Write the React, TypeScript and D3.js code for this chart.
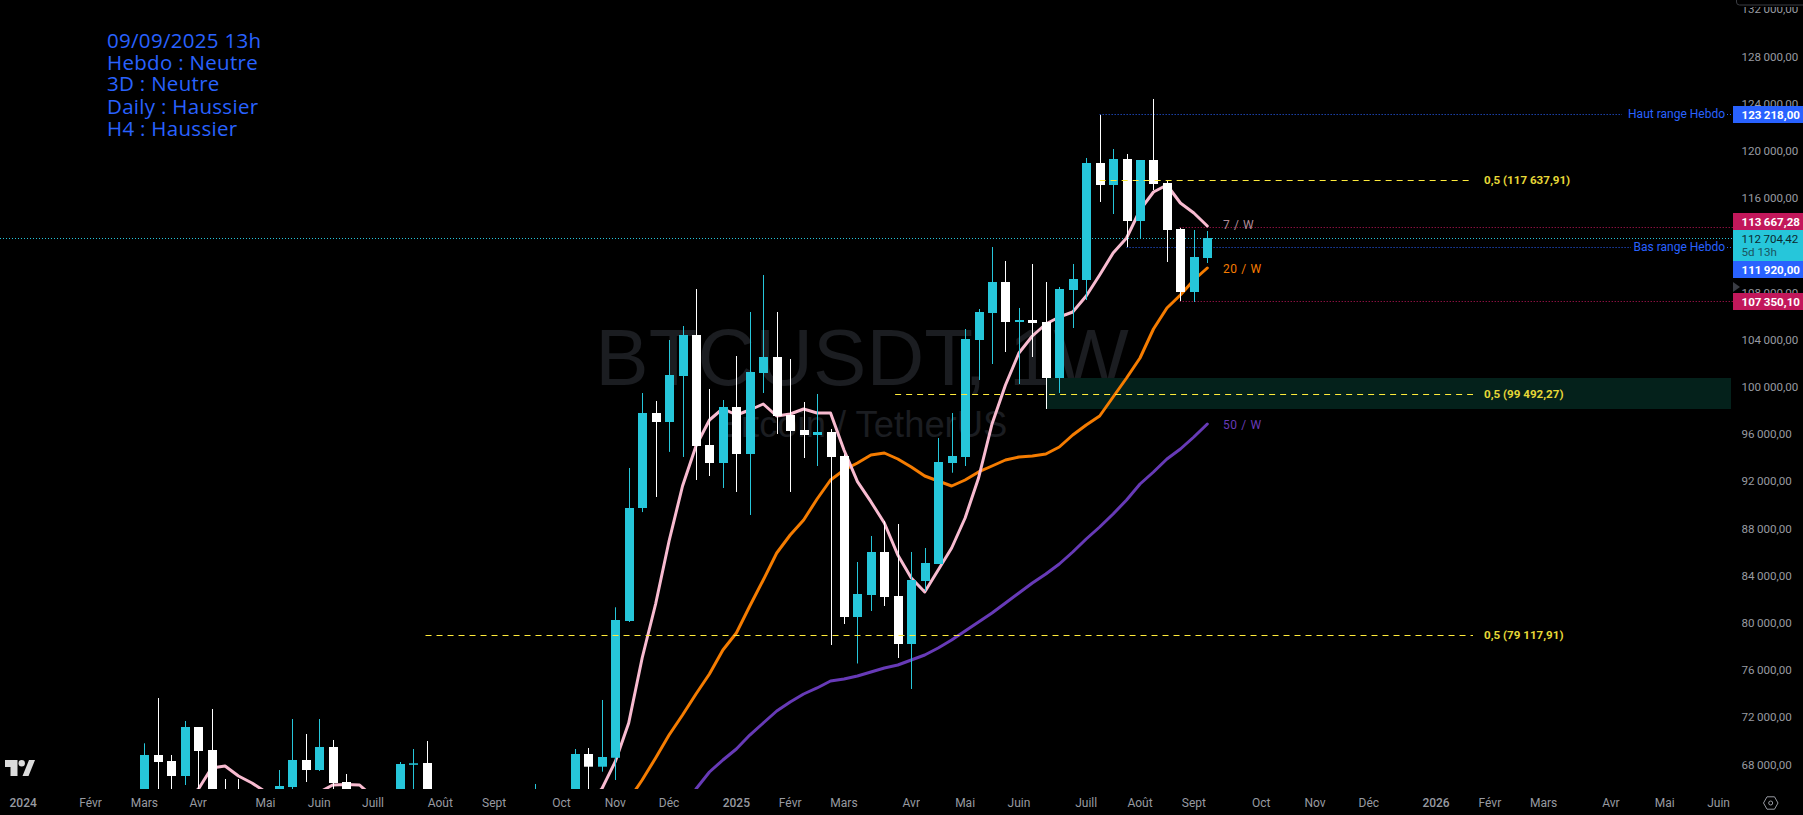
import React from "react";
import * as d3 from "d3";

const WIDTH = 1803;
const HEIGHT = 815;

// Weekly BTC/USDT candles (index 0 = week of 4 Mar 2024)
const opens = [62000,68814,68305,67034,71186,69237,63000,61000,60800,58000,61000,66100,68390,67542,69492,66525,64000,61000,55800,58000,68000,68136,64600,58000,58700,64000,57300,54800,60000,63500,65600,62000,62900,68898,67822,68580,80170,89746,97797,97034,100932,104407,95085,93559,98305,94322,101186,102542,97627,96356,95932,96186,94153,80508,82373,86017,82288,78220,83559,85000,93559,94068,103983,106271,108898,105508,105678,105508,100763,108220,109068,118983,117119,119322,114068,119237,117288,113390,108051,110932];
const highs = [69805,73644,68814,71695,71186,72712,66780,66780,65000,63000,67542,71864,70593,71864,70085,67203,65500,62000,60000,68220,69322,70000,65600,62700,65000,64900,59800,60600,63800,66356,65800,64500,69322,69407,73475,81330,93136,99490,98814,103983,105169,108305,99831,98898,102627,106356,109492,106356,102373,98729,99407,96441,94300,85169,87373,88644,88390,86017,86356,95678,97797,104915,106610,111864,110678,106695,110424,108898,108475,110424,119407,123050,120169,119746,119237,124407,117542,113475,113305,113220];
const lows = [61000,64500,60800,66271,64500,60000,60000,60000,56000,57000,60000,65000,66525,67458,65000,63000,60000,53500,55000,57000,65500,61000,49000,54700,57800,57100,52500,53600,57500,62700,60000,59000,62000,65500,67400,66695,80085,89400,90678,94500,94068,92119,92458,91441,91102,89153,99492,96017,91102,93983,93305,78136,79915,76568,81017,81441,77034,74407,82712,85000,92737,93305,100593,101949,102966,100254,102542,98136,99492,105000,107373,115678,114661,111864,112542,116695,110593,107288,107203,110508];
const closes = [68814,68220,67034,71186,69153,63000,61000,60800,58000,61000,66186,68390,67542,69492,66441,64000,61000,55800,58000,68051,68110,64600,58000,58700,64000,57300,54800,60000,63500,65600,62000,62900,68898,67822,68644,80254,89746,97797,97034,101017,104407,95000,93559,98305,94322,101271,102542,97542,96271,95932,96186,94068,80508,82458,86017,82203,78220,83644,85085,93644,94153,104068,106356,108898,105508,105678,105424,100763,108305,109153,118983,117119,119322,114068,119237,117203,113305,108051,111017,112627];

// Moving averages, same weekly index
const ma7 = [62000,63500,64500,65300,65890,67712,67881,67034,66441,65700,65500,65200,65400,65650,66271,66314,66271,65254,64000,63500,63000,62500,62000,61500,61000,60500,60200,60000,60500,61500,62500,63300,64000,65000,65932,68246,71525,77034,81610,86949,91610,95000,97203,98178,97627,98051,98559,97542,97712,98136,97797,97797,94661,91975,90280,88475,85763,83814,82627,84492,86356,88898,92288,96864,100169,102881,104322,105339,105932,106356,107712,109492,111356,112627,115000,116525,117119,115593,114746,113644];
const ma20Start = 35;
const ma20 = [63300,65000,66695,68559,70508,72203,73983,75678,77712,79153,81441,83644,85932,87458,88729,90508,92119,92966,93559,94237,94407,93898,93220,92458,92034,91610,92119,92797,93305,93814,94068,94153,94322,94915,95932,96780,97542,99153,100763,102458,104915,106695,107797,109068,110085];
const ma50Start = 40;
const ma50 = [64153,65932,67373,68390,69322,70508,71525,72542,73305,73983,74492,75085,75254,75508,75847,76186,76441,76864,77288,77881,78559,79322,80085,80847,81695,82542,83390,84153,85000,86017,87119,88136,89237,90424,91780,92797,93898,94746,95763,96864];

const priceTicks = [132000,128000,124000,120000,116000,112000,108000,104000,100000,96000,92000,88000,84000,80000,76000,72000,68000];
const timeIndex = [-9,-4,0,4,9,13,17,22,26,31,35,39,44,48,52,57,61,65,70,74,78,83,87,91,96,100,104,109,113,117];
const timeLabels = ["2024","Févr","Mars","Avr","Mai","Juin","Juill","Août","Sept","Oct","Nov","Déc","2025","Févr","Mars","Avr","Mai","Juin","Juill","Août","Sept","Oct","Nov","Déc","2026","Févr","Mars","Avr","Mai","Juin"];
const notes = ["09/09/2025 13h","Hebdo : Neutre","3D : Neutre","Daily : Haussier","H4 : Haussier"];

const levelHigh = 123218;
const levelLow = 111920;
const levelMa7 = 113667.28;
const levelLastPrice = 112704.42;
const levelBottom = 107350.1;
const fibLevels = [
  { value: 117637.91, from: 71, label: "0,5 (117 637,91)" },
  { value: 99492.27, from: 55.8, label: "0,5 (99 492,27)" },
  { value: 79117.91, from: 20.9, label: "0,5 (79 117,91)" },
];
const zone = { top: 100763, bottom: 98136, from: 67 };

const CYAN = "#26c6da";
const WHITE = "#ffffff";
const PINK = "#f8bbd0";
const ORANGE = "#f57c00";
const PURPLE = "#673ab7";
const BLUE = "#2962ff";
const CRIMSON = "#c2185b";
const YELLOW = "#ffeb3b";
const AXIS = "#b2b5be";
const UI = "Roboto, 'Noto Sans', sans-serif";

const plotRight = 1733;
const plotBottom = 789;

const x = d3.scaleLinear().domain([0, 79]).range([144.3, 1207.3]);
const y = d3.scaleLinear().domain([100000, 80000]).range([387, 623]);

// Horizontal guides sit a pixel and a bit below the mark scale in the reference.
const guideY = (v: number) => Math.floor(y(v) + 1.3) + 0.5;
const fibY = (v: number) => Math.round(y(v) + 1.3) + 0.5;

const fmt = (v: number, d = 2) =>
  v.toFixed(d).replace(".", ",").replace(/\B(?=(\d{3})+(?!\d))/, "\u2009");

const lineFor = (start: number) =>
  d3.line<number>().x((_, i) => x(i + start)).y((d) => y(d));

function Tag({ value, center, fill, text }: { value: number; center: number; fill: string; text: string }) {
  return (
    <g>
      <rect x={plotRight} y={center - 8.5} width={WIDTH - plotRight} height={17} fill={fill} />
      <text x={1741.5} y={center + 4} fontSize={11.6} fontWeight={700} fill={text} fontFamily={UI}>
        {fmt(value)}
      </text>
    </g>
  );
}

export default function App() {
  const ma7Line = lineFor(0)(ma7) || "";
  const ma20Line = lineFor(ma20Start)(ma20) || "";
  const ma50Line = lineFor(ma50Start)(ma50) || "";
  const bodyW = 9;
  return (
    <svg
      width={WIDTH}
      height={HEIGHT}
      viewBox={`0 0 ${WIDTH} ${HEIGHT}`}
      style={{ position: "absolute", left: 0, top: 0, display: "block", background: "#000" }}
    >
      <defs>
        <clipPath id="plot">
          <rect x={0} y={0} width={plotRight} height={plotBottom} />
        </clipPath>
      </defs>
      <rect width={WIDTH} height={HEIGHT} fill="#000" />

      {/* watermark */}
      <g fill="#1b1d21" fontFamily="'Liberation Sans', Arial, sans-serif" textAnchor="middle">
        <text x={862} y={385} fontSize={80}>BTCUSDT, 1W</text>
        <text x={862} y={436.5} fontSize={36.4}>Bitcoin / TetherUS</text>
      </g>

      <g clipPath="url(#plot)">
        {/* green zone */}
        <rect x={x(zone.from)} y={y(zone.top)} width={1731 - x(zone.from)} height={y(zone.bottom) - y(zone.top)} fill="#04211b" />

        {/* price & range lines (below candles) */}
        <line x1={0} x2={plotRight} y1={guideY(levelLastPrice)} y2={guideY(levelLastPrice)} stroke={CYAN} strokeDasharray="1 2" />
        <line x1={x(71)} x2={1622} y1={guideY(levelHigh)} y2={guideY(levelHigh)} stroke={BLUE} strokeDasharray="1 2" />
        <line x1={x(73)} x2={1631} y1={guideY(levelLow)} y2={guideY(levelLow)} stroke={BLUE} strokeDasharray="1 2" />
        <line x1={x(76.95)} x2={plotRight} y1={guideY(levelMa7)} y2={guideY(levelMa7)} stroke={CRIMSON} strokeDasharray="1 2" />
        <line x1={x(76.95)} x2={plotRight} y1={guideY(levelBottom)} y2={guideY(levelBottom)} stroke={CRIMSON} strokeDasharray="1 2" />
        <line x1={1727} x2={plotRight - 2} y1={guideY(levelHigh)} y2={guideY(levelHigh)} stroke={BLUE} strokeDasharray="1 2" />
        <line x1={1727} x2={plotRight - 2} y1={guideY(levelLow)} y2={guideY(levelLow)} stroke={BLUE} strokeDasharray="1 2" />

        {/* moving averages */}
        <g fill="none" strokeLinejoin="round" strokeLinecap="round">
          <path d={ma50Line} stroke={PURPLE} strokeWidth={3} />
          <path d={ma20Line} stroke={ORANGE} strokeWidth={3} />
          <path d={ma7Line} stroke={PINK} strokeWidth={3} />
        </g>

        {/* candles */}
        {opens.map((o, i) => {
          const c = closes[i];
          const up = c >= o;
          const color = up ? CYAN : WHITE;
          const cx = Math.round(x(i));
          const top = y(Math.max(o, c));
          const bottom = y(Math.min(o, c));
          return (
            <g key={i}>
              <line x1={cx + 0.5} x2={cx + 0.5} y1={y(highs[i])} y2={y(lows[i])} stroke={color} strokeWidth={1} />
              <rect x={cx - 4} y={top} width={bodyW} height={Math.max(bottom - top, 1.5)} fill={color} />
            </g>
          );
        })}

        {/* fib dashed lines on top */}
        {fibLevels.map((f) => (
          <line key={f.value} x1={x(f.from)} x2={1473} y1={fibY(f.value)} y2={fibY(f.value)} stroke={YELLOW} strokeWidth={1} strokeDasharray="6 5" />
        ))}
      </g>

      {/* fib labels */}
      <g fill="#e6d837" fontFamily={UI} fontSize={11.6} fontWeight={700}>
        {fibLevels.map((f) => (
          <text key={f.value} x={1484} y={fibY(f.value) + 3.5}>{f.label}</text>
        ))}
      </g>

      {/* range labels */}
      <g fill={BLUE} fontFamily={UI} fontSize={12} textAnchor="end">
        <text x={1725} y={guideY(levelHigh) + 3.5}>Haut range Hebdo</text>
        <text x={1725} y={guideY(levelLow) + 3.5}>Bas range Hebdo</text>
      </g>

      {/* MA labels */}
      <g fontFamily={UI} fontSize={12} letterSpacing={0.6}>
        <text x={1223} y={y(ma7[ma7.length - 1]) + 3} fill="#b08c98">7 / W</text>
        <text x={1223} y={y(ma20[ma20.length - 1]) + 5} fill={ORANGE}>20 / W</text>
        <text x={1223} y={y(ma50[ma50.length - 1]) + 5} fill={PURPLE}>50 / W</text>
      </g>

      {/* notes */}
      <g fill={BLUE} fontFamily="'Open Sans', sans-serif" fontSize={20.5} letterSpacing={0.3}>
        {notes.map((n, i) => (
          <text key={n} x={107} y={[47.7, 70, 91.3, 114, 135.7][i]}>{n}</text>
        ))}
      </g>

      {/* price axis */}
      <rect x={plotRight} y={0} width={WIDTH - plotRight} height={HEIGHT} fill="#000" />
      <g fill={AXIS} fontFamily={UI} fontSize={11.6} opacity={0.85}>
        {priceTicks.filter((t) => t !== 112000).map((t) => (
          <text key={t} x={1741.5} y={y(t) + 4}>{fmt(t)}</text>
        ))}
      </g>
      <rect x={plotRight} y={0} width={WIDTH - plotRight} height={7} fill="#000" />
      <rect x={1736.5} y={-4} width={80} height={9} rx={3} fill="#000" stroke="#3a3c42" />
      <path d="M1733 282 L1740 287 L1733 292 Z" fill="#3a3c44" />
      <Tag value={levelHigh} center={114.5} fill={BLUE} text="#fff" />
      <Tag value={levelMa7} center={221.5} fill={CRIMSON} text="#fff" />
      <rect x={plotRight} y={230} width={WIDTH - plotRight} height={31} fill={CYAN} />
      <text x={1741.5} y={242.5} fontSize={11.6} fill="#0b2a30" fontFamily={UI}>{fmt(levelLastPrice)}</text>
      <text x={1741.5} y={256} fontSize={11.6} fill="#1b5560" fontFamily={UI}>5d 13h</text>
      <Tag value={levelLow} center={269.5} fill={BLUE} text="#fff" />
      <Tag value={levelBottom} center={301.5} fill={CRIMSON} text="#fff" />

      {/* time axis */}
      <g fontFamily={UI} fontSize={12} textAnchor="middle" fill={AXIS}>
        {timeLabels.map((l, i) => (
          <text key={i} x={x(timeIndex[i])} y={807} opacity={0.85} fontWeight={/^\d/.test(l) ? 500 : 400}>{l}</text>
        ))}
      </g>

      {/* settings icon */}
      <g fill="none" stroke={AXIS} strokeWidth={1} opacity={0.85}>
        <path d="M1763.5 803 L1767 796.8 L1774.5 796.8 L1778 803 L1774.5 809.2 L1767 809.2 Z" />
        <circle cx={1770.7} cy={803} r={2} />
      </g>

      {/* logo */}
      <g fill="#dcdcdc">
        <path d="M5 760 H17.5 V776 H10.5 V767 H5 Z" />
        <circle cx={21.7} cy={763.3} r={3.2} />
        <path d="M29 760 H35 L28.5 776 H22.5 Z" />
      </g>
    </svg>
  );
}
